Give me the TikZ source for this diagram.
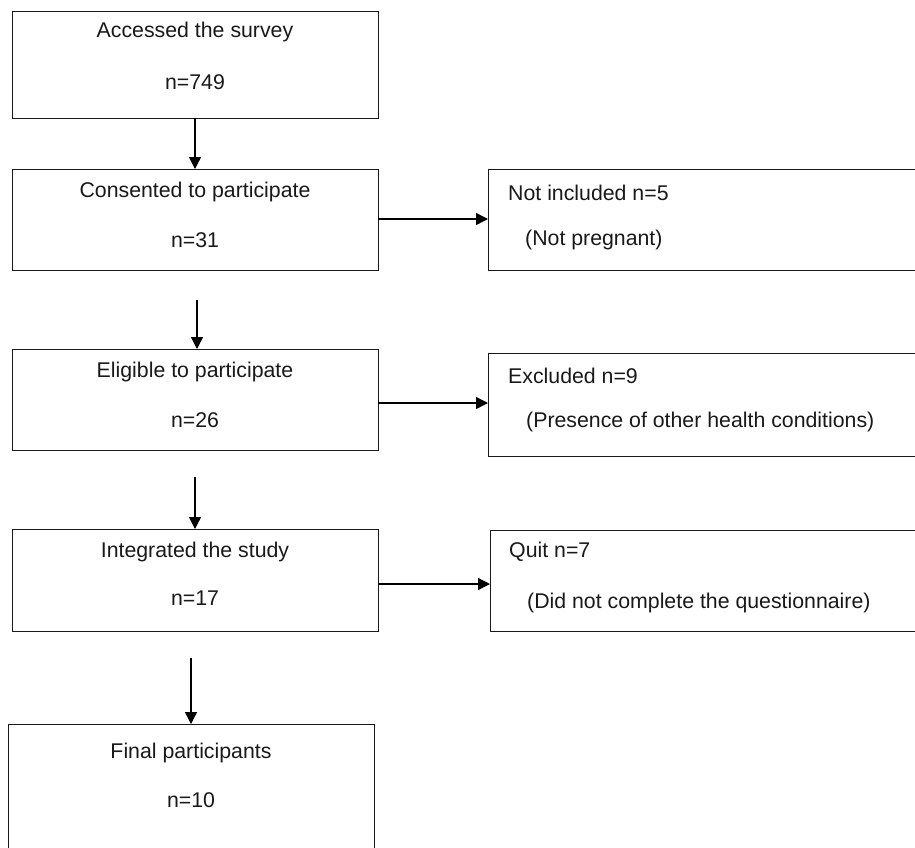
\documentclass[tikz,border=0pt]{standalone}
\usepackage{fontspec}
\setmainfont{Liberation Sans}
\usetikzlibrary{arrows.meta}
\begin{document}
\begin{tikzpicture}[x=1pt,y=-1pt,
  box/.style={draw=black!90,line width=1.4pt,anchor=north west,inner sep=0pt},
  txt/.style={font=\fontsize{21.3}{24}\selectfont,text=black!90,inner sep=0pt},
  arr/.style={draw=black,line width=1.4pt,-{Triangle[width=12pt,length=12pt]}}]
\clip (0,0) rectangle (915,847);
\useasboundingbox (0,0) rectangle (915,847);
\fill[white] (0,0) rectangle (915,847);
% left boxes
\node[box,minimum width=366pt,minimum height=107pt] (b1) at (12,11) {};
\node[box,minimum width=366pt,minimum height=101pt] (b2) at (12,169) {};
\node[box,minimum width=366pt,minimum height=101pt] (b3) at (12,349) {};
\node[box,minimum width=366pt,minimum height=102pt] (b4) at (12,529) {};
\node[box,minimum width=366pt,minimum height=130pt] (b5) at (8,724) {};
% right boxes
\node[box,minimum width=442pt,minimum height=101pt] (r1) at (488,169) {};
\node[box,minimum width=442pt,minimum height=103pt] (r2) at (488,353) {};
\node[box,minimum width=440pt,minimum height=101pt] (r3) at (490,530) {};
% texts
\node[txt] (t1a) at (195,32) {Accessed the survey};
\node[txt] (t1b) at (195,82) {n=749};
\node[txt] (t2a) at (195,192) {Consented to participate};
\node[txt] (t2b) at (195,240) {n=31};
\node[txt] (t3a) at (195,372) {Eligible to participate};
\node[txt] (t3b) at (195,420) {n=26};
\node[txt] (t4a) at (195,552) {Integrated the study};
\node[txt] (t4b) at (195,598) {n=17};
\node[txt] (t5a) at (191,753) {Final participants};
\node[txt] (t5b) at (191,800) {n=10};
\node[txt,anchor=west] (s1a) at (508,193) {Not included n=5};
\node[txt,anchor=west] (s1b) at (525,240) {(Not pregnant)};
\node[txt,anchor=west] (s2a) at (508,376) {Excluded n=9};
\node[txt,anchor=west] (s2b) at (526,422) {(Presence of other health conditions)};
\node[txt,anchor=west] (s3a) at (509,552) {Quit n=7};
\node[txt,anchor=west] (s3b) at (527,603) {(Did not complete the questionnaire)};
% vertical arrows
\coordinate (v1) at (195,118);
\coordinate (v2) at (197,300);
\coordinate (v3) at (195,477);
\coordinate (v4) at (191,658);
\draw[arr] (v1) -- (v1 |- b2.north);
\draw[arr] (v2) -- (v2 |- b3.north);
\draw[arr] (v3) -- (v3 |- b4.north);
\draw[arr] (v4) -- (v4 |- b5.north);
% horizontal arrows
\coordinate (h1) at (378,219);
\coordinate (h2) at (378,403);
\coordinate (h3) at (378,584);
\draw[arr] (h1) -- (h1 -| r1.west);
\draw[arr] (h2) -- (h2 -| r2.west);
\draw[arr] (h3) -- (h3 -| r3.west);
\end{tikzpicture}
\end{document}
